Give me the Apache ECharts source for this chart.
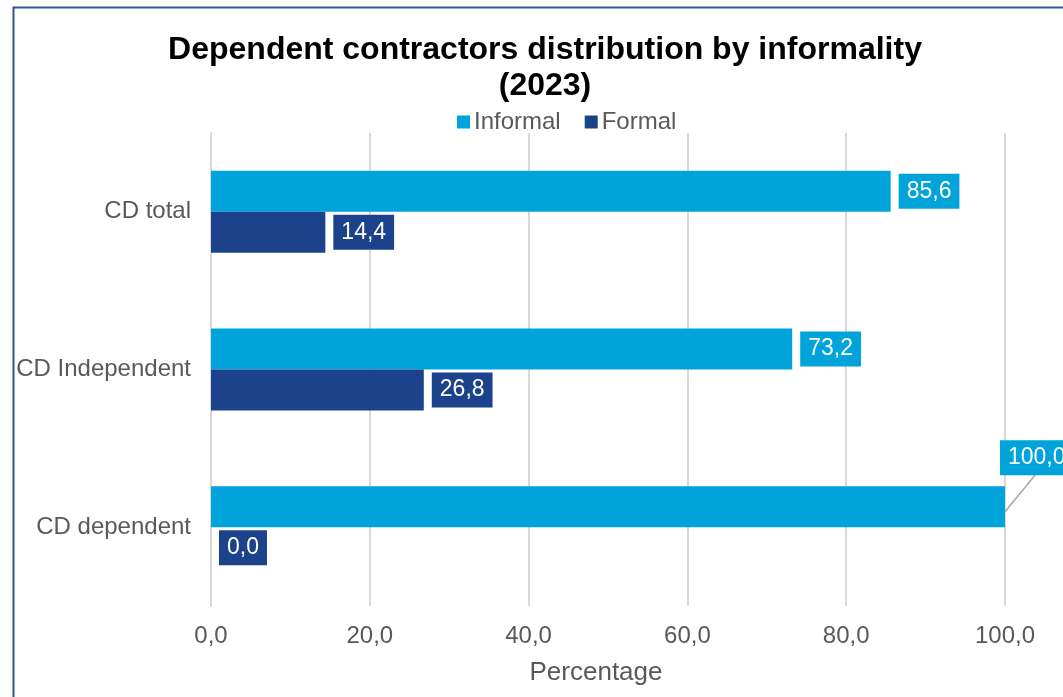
<!DOCTYPE html>
<html>
<head>
<meta charset="utf-8">
<script src="https://cdn.jsdelivr.net/npm/echarts@6/dist/echarts.min.js"></script>
<style>
html,body{margin:0;padding:0;background:#fff;}
#chart{width:1063px;height:697px;}
</style>
</head>
<body>
<div id="chart"></div>
<script>
const categories = ['CD total', 'CD Independent', 'CD dependent'];
const informal = [85.6, 73.2, 100.0];
const formal = [14.4, 26.8, 0.0];
const xTicks = [0, 20, 40, 60, 80, 100];

const fmt = v => Number(v).toFixed(1).replace('.', ',');
const FONT = '"Liberation Sans", Arial, sans-serif';
const C_INF = '#00A3DA';
const C_FOR = '#1B428A';
const LBL_DX = -13, LBL_DY = -49, LBL_H = 35, LBL_DIST = 8;

const chart = echarts.init(document.getElementById('chart'));
chart.setOption({
  animation: false,
  textStyle: {fontFamily: FONT},
  graphic: [{
    id: 'frame', type: 'rect', left: 11, top: 5, z: 100, silent: true,
    shape: {x: 0, y: 0, width: 1100, height: 750},
    style: {fill: 'none', stroke: '#2F5597', lineWidth: 2}
  }],
  title: {
    text: 'Dependent contractors distribution by informality\n(2023)',
    left: 540, top: 27, textAlign: 'center',
    textStyle: {fontFamily: FONT, fontSize: 32, fontWeight: 'bold', color: '#000', lineHeight: 36}
  },
  legend: {
    top: 105, left: 452,
    itemWidth: 13, itemHeight: 13, itemGap: 24,
    icon: 'rect',
    textStyle: {fontFamily: FONT, fontSize: 24, color: '#595959', padding: [0, 0, 0, -1]},
    data: ['Informal', 'Formal']
  },
  grid: {left: 211, right: 58, top: 133, bottom: 91, containLabel: false},
  xAxis: {
    type: 'value', min: xTicks[0], max: xTicks[xTicks.length - 1], interval: 20,
    name: 'Percentage', nameLocation: 'middle', nameGap: 54,
    nameTextStyle: {fontFamily: FONT, fontSize: 26, color: '#595959', padding: [0, 24, 0, 0]},
    axisLine: {show: false}, axisTick: {show: false},
    axisLabel: {formatter: fmt, fontFamily: FONT, fontSize: 24, color: '#595959', margin: 18},
    splitLine: {lineStyle: {color: '#D9D9D9', width: 2}}
  },
  yAxis: {
    type: 'category', data: categories, inverse: true,
    axisLine: {lineStyle: {color: '#D9D9D9', width: 2}},
    axisTick: {show: false},
    axisLabel: {fontFamily: FONT, fontSize: 24, color: '#595959', margin: 20}
  },
  series: [
    {
      name: 'Informal', type: 'bar', data: informal,
      itemStyle: {color: C_INF}, barGap: '0%', barCategoryGap: '48%',
      label: {
        show: true, position: 'right', distance: LBL_DIST, formatter: p => fmt(p.value),
        color: '#fff', fontFamily: FONT, fontSize: 23, backgroundColor: C_INF,
        padding: [6, 8, 6, 8], lineHeight: 23
      },
      labelLayout: p => (p.dataIndex === 2 ? {dx: LBL_DX, dy: LBL_DY} : {})
    },
    {
      name: 'Formal', type: 'bar', data: formal,
      itemStyle: {color: C_FOR}, barGap: '0%', barCategoryGap: '48%',
      label: {
        show: true, position: 'right', distance: LBL_DIST, formatter: p => fmt(p.value),
        color: '#fff', fontFamily: FONT, fontSize: 23, backgroundColor: C_FOR,
        padding: [6, 8, 6, 8], lineHeight: 23
      }
    }
  ]
});

// Leader line for the moved "100,0" label, computed from the library's bar layout
const lay = chart.getModel().getSeriesByIndex(0).getData().getItemLayout(2);
if (lay) {
  const x0 = lay.x + lay.width;
  const y0 = lay.y + lay.height / 2 + 5;
  const x1 = x0 + LBL_DIST + LBL_DX + 35;
  const y1 = lay.y + lay.height / 2 + LBL_DY + LBL_H / 2;
  chart.setOption({
    graphic: [{
      id: 'leader', type: 'line', silent: true, z: 1,
      shape: {x1: x0, y1: y0, x2: x1, y2: y1},
      style: {stroke: '#A6A6A6', lineWidth: 1.5}
    }]
  });
}
</script>
</body>
</html>
